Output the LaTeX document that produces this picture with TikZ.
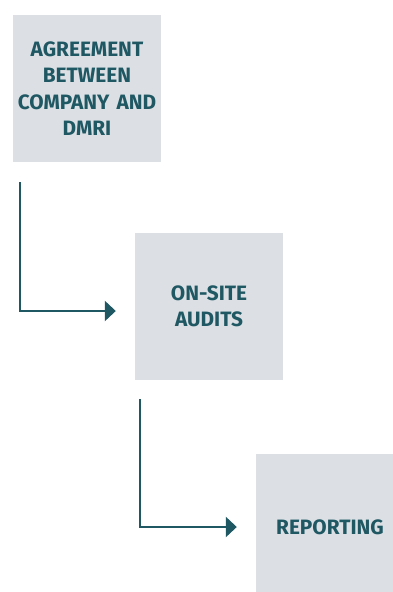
\documentclass[tikz,border=0pt]{standalone}
\usepackage{fontspec}
\setmainfont{Fira Sans}
\usetikzlibrary{arrows.meta}
\definecolor{boxgray}{HTML}{DCE0E4}
\definecolor{teal}{HTML}{1F5763}
\tikzset{
  stepbox/.style={rectangle, fill=boxgray, inner sep=0pt, minimum width=148pt, minimum height=147pt,
    text width=146pt, align=center, text=teal,
    font=\fontsize{20.8}{26.5}\selectfont\bfseries},
  flow/.style={draw=teal, line width=2.4pt, -{Triangle[length=11pt,width=20pt]}}
}
\begin{document}
\begin{tikzpicture}[x=1pt,y=-1pt]
    \useasboundingbox (0,0) rectangle (393,592);
    \clip (0,0) rectangle (393,592);

    \node[stepbox] (agree) at (87,88.5) {AGREEMENT\\BETWEEN\\COMPANY AND\\DMRI};
    \node[stepbox] (audit) at (209,306.5) {ON-SITE\\AUDITS};
    \node[stepbox] (report) at (330,527) {REPORTING};

    \draw[flow] ([xshift=7pt,yshift=-20pt]agree.south west) |- ([xshift=-19pt,yshift=-4.5pt]audit.west);
    \draw[flow] ([xshift=5pt,yshift=-19pt]audit.south west) |- ([xshift=-19pt]report.west);
\end{tikzpicture}
\end{document}
